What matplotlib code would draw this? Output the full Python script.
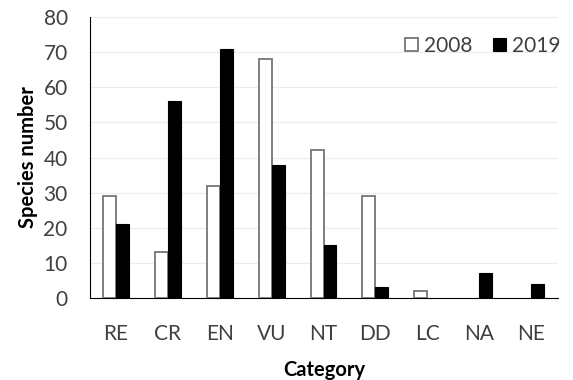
import matplotlib
matplotlib.use("Agg")
import matplotlib.pyplot as plt
import numpy as np

plt.rcParams["font.family"] = ["Lato", "DejaVu Sans"]

categories = ["RE", "CR", "EN", "VU", "NT", "DD", "LC", "NA", "NE"]
y2008 = [29, 13, 32, 68, 42, 29, 2, 0, 0]
y2019 = [21, 56, 71, 38, 15, 3, 0, 7, 4]

fig = plt.figure(figsize=(5.73, 3.8), dpi=100)
ax = fig.add_axes([0.157, 0.216, 0.817, 0.739])

x = np.arange(len(categories))
w = 0.25
b1 = ax.bar(x - w/2, y2008, w, facecolor="white", edgecolor="#7f7f7f", linewidth=1.4, label="2008", zorder=3)
b2 = ax.bar(x + w/2, y2019, w, facecolor="black", edgecolor="black", linewidth=0.8, label="2019", zorder=3)
# empty categories draw nothing
for bars, vals in ((b1, y2008), (b2, y2019)):
    for r, v in zip(bars, vals):
        if v == 0:
            r.set_visible(False)

ax.set_ylim(0, 80)
ax.set_yticks(range(0, 81, 10))
ax.set_xlim(-0.5, len(categories) - 0.48)
ax.set_xticks(x)
ax.set_xticklabels(categories)
ax.tick_params(axis="both", length=0, labelsize=15, colors="#404040")
ax.tick_params(axis="x", pad=19)
ax.tick_params(axis="y", pad=16)
ax.yaxis.grid(True, color="#ececec", linewidth=0.8, zorder=0)
ax.set_axisbelow(True)
for s in ["top", "right"]:
    ax.spines[s].set_visible(False)
ax.spines["left"].set_color("black")
ax.spines["bottom"].set_color("black")

ax.set_ylabel("Species number", fontsize=14.5, fontweight="bold", labelpad=4)
ax.set_xlabel("Category", fontsize=14.5, fontweight="bold", labelpad=11)

leg = ax.legend(loc="upper right", bbox_to_anchor=(1.045, 1.0), ncol=2, frameon=False,
                fontsize=15, handlelength=0.6, handleheight=0.6, handletextpad=0.3,
                columnspacing=1.0, labelcolor="#404040")

plt.savefig("out.png", dpi=100)
